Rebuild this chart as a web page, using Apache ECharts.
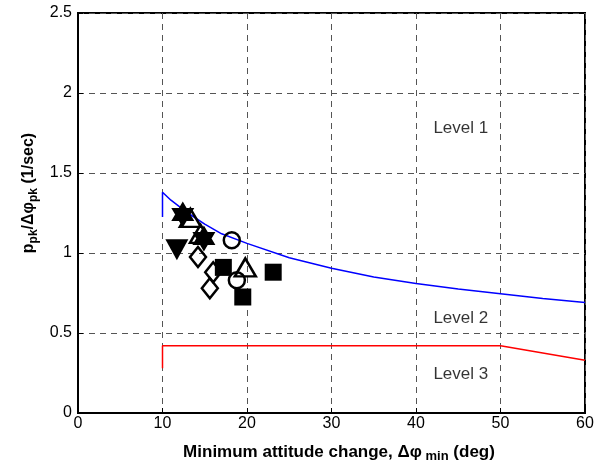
<!DOCTYPE html>
<html>
<head>
<meta charset="utf-8">
<script src="https://cdn.jsdelivr.net/npm/echarts@6/dist/echarts.min.js"></script>
<style>
  html, body { margin: 0; padding: 0; background: #fff; }
  #chart { width: 602px; height: 470px; }
</style>
</head>
<body>
<div id="chart"></div>
<script>
// Axis ticks
const xTicks = [0, 10, 20, 30, 40, 50, 60];
const yTicks = [0, 0.5, 1, 1.5, 2, 2.5];

// Level 1 / Level 2 boundary (blue)
const boundary12 = [
  [10, 1.225], [10, 1.38], [11, 1.33], [12, 1.29], [13, 1.25], [15, 1.18], [17, 1.12],
  [20, 1.06], [25, 0.97], [30, 0.905], [35, 0.85], [40, 0.81], [45, 0.775],
  [50, 0.745], [55, 0.715], [60, 0.69]
];
// Level 2 / Level 3 boundary (red)
const boundary23 = [[10, 0.28], [10, 0.42], [50, 0.42], [60, 0.33]];

// Test points, one array per marker type
const filledSquares = [[17.2, 0.91], [19.5, 0.725], [23.1, 0.88]];
const openCircles = [[18.2, 1.08], [18.8, 0.83]];
const openDiamonds = [[14.2, 0.975], [16.0, 0.88], [15.6, 0.78]];
const openTriangles = [[13.3, 1.22], [14.5, 1.12], [19.8, 0.91]];
const filledDownTriangles = [[11.7, 1.02]];
const filledHexagrams = [[12.4, 1.24], [14.9, 1.09]];

// Region labels
const levelNames = ['Level 1', 'Level 2', 'Level 3'];
const levelX = [45.3, 45.3, 45.3];
const levelY = [1.78, 0.59, 0.24];

const FONT = '"Liberation Sans", Arial, Helvetica, sans-serif';
const hexagramPath = 'path://M0,-10L8.66,5L-8.66,5Z M0,10L-8.66,-5L8.66,-5Z';

const chart = echarts.init(document.getElementById('chart'), null, { renderer: 'canvas' });

const grid = { left: 78, right: 17, top: 13, bottom: 57 };
const dashed = { show: true, lineStyle: { color: '#555', width: 1, type: [6, 5] } };

const openStyle = { color: 'rgba(0,0,0,0)', borderColor: '#000', borderWidth: 2.5, opacity: 1 };
const filledStyle = { color: '#000', borderColor: '#000', borderWidth: 0, opacity: 1 };

const titleRich = {
  b: { fontSize: 17, fontWeight: 'bold', fontFamily: FONT, lineHeight: 22 },
  s: { fontSize: 13, fontWeight: 'bold', fontFamily: FONT, lineHeight: 10, verticalAlign: 'bottom' }
};

chart.setOption({
  animation: false,
  backgroundColor: '#fff',
  grid: Object.assign({ show: true, borderColor: '#000', borderWidth: 2, backgroundColor: '#fff' }, grid),
  xAxis: {
    type: 'value',
    min: xTicks[0],
    max: xTicks[xTicks.length - 1],
    interval: xTicks[1] - xTicks[0],
    axisLine: { show: true, lineStyle: { color: '#000', width: 2 } },
    axisTick: { show: true, inside: true, length: 5, lineStyle: { color: '#000' } },
    axisLabel: { color: '#000', fontFamily: FONT, fontSize: 16, margin: 3 },
    splitLine: dashed
  },
  yAxis: {
    type: 'value',
    min: yTicks[0],
    max: yTicks[yTicks.length - 1],
    interval: yTicks[1] - yTicks[0],
    axisLine: { show: true, lineStyle: { color: '#000', width: 2 } },
    axisTick: { show: true, inside: true, length: 5, lineStyle: { color: '#000' } },
    axisLabel: { color: '#000', fontFamily: FONT, fontSize: 16, margin: 6 },
    splitLine: dashed
  },
  graphic: [
    {
      type: 'text',
      x: 339, y: 452,
      style: {
        text: '{b|Minimum attitude change, Δφ}{s| min}{b| (deg)}',
        align: 'center', verticalAlign: 'middle',
        fontFamily: FONT, fontWeight: 'bold', fill: '#000',
        rich: titleRich
      }
    },
    {
      type: 'text',
      x: 29, y: 193,
      rotation: Math.PI / 2,
      style: {
        text: '{b|p}{s|pk}{b|/Δφ}{s|pk}{b| (1/sec)}',
        align: 'center', verticalAlign: 'middle',
        fontFamily: FONT, fontWeight: 'bold', fill: '#000',
        rich: {
          b: { fontSize: 16, fontWeight: 'bold', fontFamily: FONT, lineHeight: 22 },
          s: { fontSize: 12, fontWeight: 'bold', fontFamily: FONT, lineHeight: 11, verticalAlign: 'bottom' }
        }
      }
    }
  ],
  series: [
    {
      type: 'line', data: boundary12, showSymbol: false, symbol: 'none',
      lineStyle: { color: '#0000ff', width: 1.5 }, z: 3
    },
    {
      type: 'line', data: boundary23, showSymbol: false, symbol: 'none',
      lineStyle: { color: '#ff0000', width: 1.5 }, z: 3
    },
    {
      type: 'scatter',
      data: levelNames.map((n, i) => ({ name: n, value: [levelX[i], levelY[i]] })),
      symbolSize: 0,
      label: {
        show: true, position: 'inside', formatter: '{b}',
        color: '#000', fontFamily: FONT, fontSize: 17
      },
      z: 4
    },
    { type: 'scatter', data: openDiamonds, symbol: 'diamond', symbolSize: [16, 20], itemStyle: openStyle, z: 5 },
    { type: 'scatter', data: filledSquares, symbol: 'rect', symbolSize: 17, itemStyle: filledStyle, z: 5 },
    { type: 'scatter', data: openCircles, symbol: 'circle', symbolSize: 16, itemStyle: openStyle, z: 5 },
    { type: 'scatter', data: openTriangles, symbol: 'triangle', symbolSize: [21, 18], itemStyle: openStyle, z: 5 },
    { type: 'scatter', data: filledDownTriangles, symbol: 'triangle', symbolRotate: 180, symbolSize: [23, 21], itemStyle: filledStyle, z: 6 },
    { type: 'scatter', data: filledHexagrams, symbol: hexagramPath, symbolSize: [23, 26], itemStyle: filledStyle, z: 6 }
  ]
});
</script>
</body>
</html>
